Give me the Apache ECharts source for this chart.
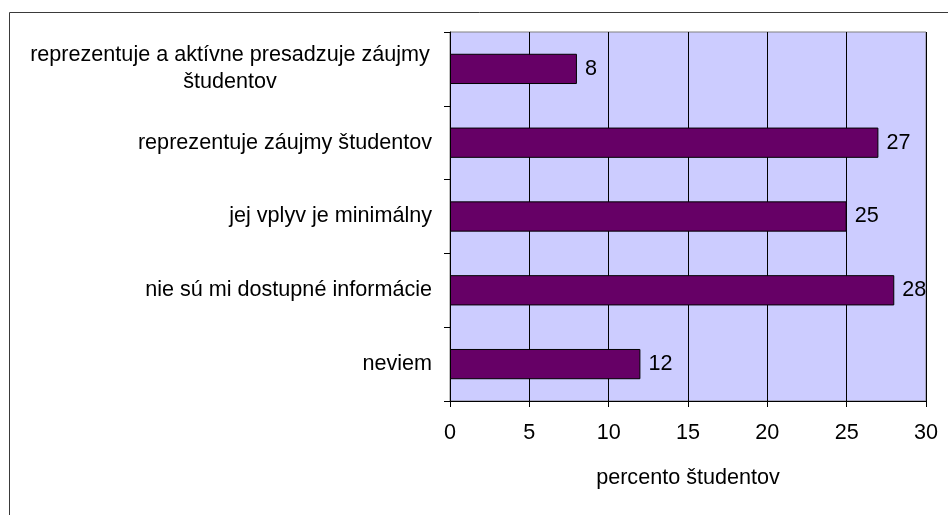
<!DOCTYPE html>
<html>
<head>
<meta charset="utf-8">
<script src="https://cdn.jsdelivr.net/npm/echarts@6/dist/echarts.min.js"></script>
<style>
html, body { margin: 0; padding: 0; background: #fff; }
#chart { width: 948px; height: 515px; }
</style>
</head>
<body>
<div id="chart"></div>
<script>
// kategórie a hodnoty
var categories = [
    'reprezentuje a aktívne presadzuje záujmy\nštudentov',
    'reprezentuje záujmy študentov',
    'jej vplyv je minimálny',
    'nie sú mi dostupné informácie',
    'neviem'
];
var values = [8, 27, 25, 28, 12];
var ticks = [0, 5, 10, 15, 20, 25, 30];

var font = 'Liberation Sans, Arial, sans-serif';
var fs = 21.6;
var myChart = echarts.init(document.getElementById('chart'));

option = {
    animation: false,
    backgroundColor: '#fff',
    textStyle: { fontFamily: font, color: '#000' },
    graphic: [
        {
            type: 'rect',
            shape: { x: 9.5, y: 12.5, width: 1000, height: 600 },
            style: { fill: 'none', stroke: '#3a3a3a', lineWidth: 1 },
            z: 100
        }
    ],
    grid: {
        left: 450,
        right: 22,
        top: 32,
        bottom: 114,
        show: true,
        backgroundColor: '#CCCCFF',
        borderColor: '#808080',
        borderWidth: 1
    },
    xAxis: {
        type: 'value',
        min: ticks[0],
        max: ticks[ticks.length - 1],
        interval: 5,
        name: 'percento študentov',
        nameLocation: 'middle',
        nameGap: 66,
        nameTextStyle: { fontSize: fs, color: '#000', fontFamily: font },
        axisLine: { show: true, lineStyle: { color: '#000', width: 1 } },
        axisTick: { show: true, length: 6, lineStyle: { color: '#000' } },
        axisLabel: { fontSize: fs, color: '#000', margin: 21, fontFamily: font },
        splitLine: { show: true, lineStyle: { color: '#000', width: 1 } }
    },
    yAxis: {
        type: 'category',
        inverse: true,
        data: categories,
        axisLine: { show: true, lineStyle: { color: '#000', width: 1 } },
        axisTick: { show: true, length: 6, lineStyle: { color: '#000' } },
        axisLabel: {
            fontSize: fs,
            color: '#000',
            margin: 18,
            fontFamily: font,
            formatter: function (v) {
                if (v.indexOf('\n') < 0) return v;
                return v.split('\n').map(function (s) { return '{c|' + s + '}'; }).join('\n');
            },
            rich: {
                c: { width: 404, align: 'center', fontSize: fs, lineHeight: 27, fontFamily: font, color: '#000' }
            }
        }
    },
    series: [
        {
            type: 'bar',
            data: values,
            barCategoryGap: '59%',
            itemStyle: { color: '#660066', borderColor: '#000', borderWidth: 1 },
            label: {
                show: true,
                position: 'right',
                distance: 8,
                fontSize: fs,
                color: '#000',
                fontFamily: font
            }
        }
    ]
};
myChart.setOption(option, true);
</script>
</body>
</html>
